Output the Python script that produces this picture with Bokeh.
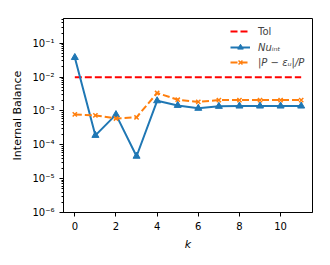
from bokeh.plotting import figure
from bokeh.models import FixedTicker, CustomJSTickFormatter, Range1d, Legend, LegendItem
from bokeh.embed import file_html
from bokeh.resources import INLINE

k = list(range(12))
nu_int = [3.8e-2, 1.9e-4, 7.8e-4, 4.6e-5, 2.0e-3, 1.46e-3, 1.2e-3, 1.37e-3, 1.4e-3, 1.4e-3, 1.4e-3, 1.4e-3]
p_eps = [7.9e-4, 7.4e-4, 6.0e-4, 6.5e-4, 3.4e-3, 2.15e-3, 1.85e-3, 2.1e-3, 2.1e-3, 2.1e-3, 2.1e-3, 2.1e-3]
tol = [1e-2] * 12
x_ticks = [0, 2, 4, 6, 8, 10]
y_ticks = [1e-6, 1e-5, 1e-4, 1e-3, 1e-2, 1e-1]

FONT = "DejaVu Sans"

p = figure(output_backend="svg", toolbar_location=None, y_axis_type="log",
           frame_width=249, frame_height=194,
           min_border_left=63, min_border_right=10, min_border_top=18, min_border_bottom=45,
           x_range=Range1d(-0.55, 11.55), y_range=Range1d(1e-6, 0.54))

p.background_fill_color = "white"
p.border_fill_color = "white"
p.outline_line_color = "black"
p.outline_line_width = 1
p.xgrid.visible = False
p.ygrid.visible = False

r_tol = p.line(k, tol, line_color="#ff0000", line_width=2, line_dash="7 3")
r_nu = p.line(k, nu_int, line_color="#1f77b4", line_width=2)
r_nu_m = p.scatter(k, nu_int, marker="triangle", size=7, fill_color="#1f77b4", line_color="#1f77b4")
r_pe = p.line(k, p_eps, line_color="#ff7f0e", line_width=2, line_dash="7 3")
r_pe_m = p.scatter(k, p_eps, marker="x", size=6, line_color="#ff7f0e", line_width=1.5)

p.xaxis.ticker = FixedTicker(ticks=x_ticks)
p.yaxis.ticker = FixedTicker(ticks=y_ticks, minor_ticks=[m * 10.0**e for e in range(-6, 0) for m in range(2, 10)])
p.yaxis.formatter = CustomJSTickFormatter(code="""
const e = Math.round(Math.log10(tick));
const sup = {'-':'\u207b','0':'\u2070','1':'\u00b9','2':'\u00b2','3':'\u00b3','4':'\u2074','5':'\u2075','6':'\u2076','7':'\u2077','8':'\u2078','9':'\u2079'};
return '10' + String(e).split('').map(c => sup[c]).join('');
""")

for ax in (p.xaxis, p.yaxis):
    ax.major_tick_in = 0
    ax.major_tick_out = 4
    ax.minor_tick_in = 0
    ax.minor_tick_out = 2
    ax.axis_line_color = "black"
    ax.major_label_text_font = FONT
    ax.major_label_text_font_size = "10px"
    ax.major_label_text_color = "black"
    ax.axis_label_text_font = FONT
    ax.axis_label_text_font_size = "11px"
    ax.axis_label_text_color = "black"
p.xaxis.minor_tick_out = 0
p.xaxis.axis_label = "k"
p.xaxis.axis_label_text_font_style = "italic"
p.yaxis.axis_label = "Internal Balance"
p.yaxis.axis_label_text_font_style = "normal"


def style(lg, font_style):
    lg.border_line_alpha = 0
    lg.background_fill_alpha = 0
    lg.label_text_font = FONT
    lg.label_text_font_size = "10px"
    lg.label_text_font_style = font_style
    lg.glyph_width = 20
    lg.glyph_height = 14
    lg.spacing = 1
    lg.padding = 2
    lg.margin = 0
    lg.label_standoff = 8


legend_a = Legend(items=[LegendItem(label="Tol", renderers=[r_tol])], location=(165, 172))
style(legend_a, "normal")
legend_b = Legend(items=[
    LegendItem(label="Nuᵢₙₜ", renderers=[r_nu, r_nu_m]),
    LegendItem(label="|P − εᵤ|/P", renderers=[r_pe, r_pe_m]),
], location=(165, 141))
style(legend_b, "italic")
p.add_layout(legend_a)
p.add_layout(legend_b)

open("out.html", "w").write(file_html(p, INLINE))
